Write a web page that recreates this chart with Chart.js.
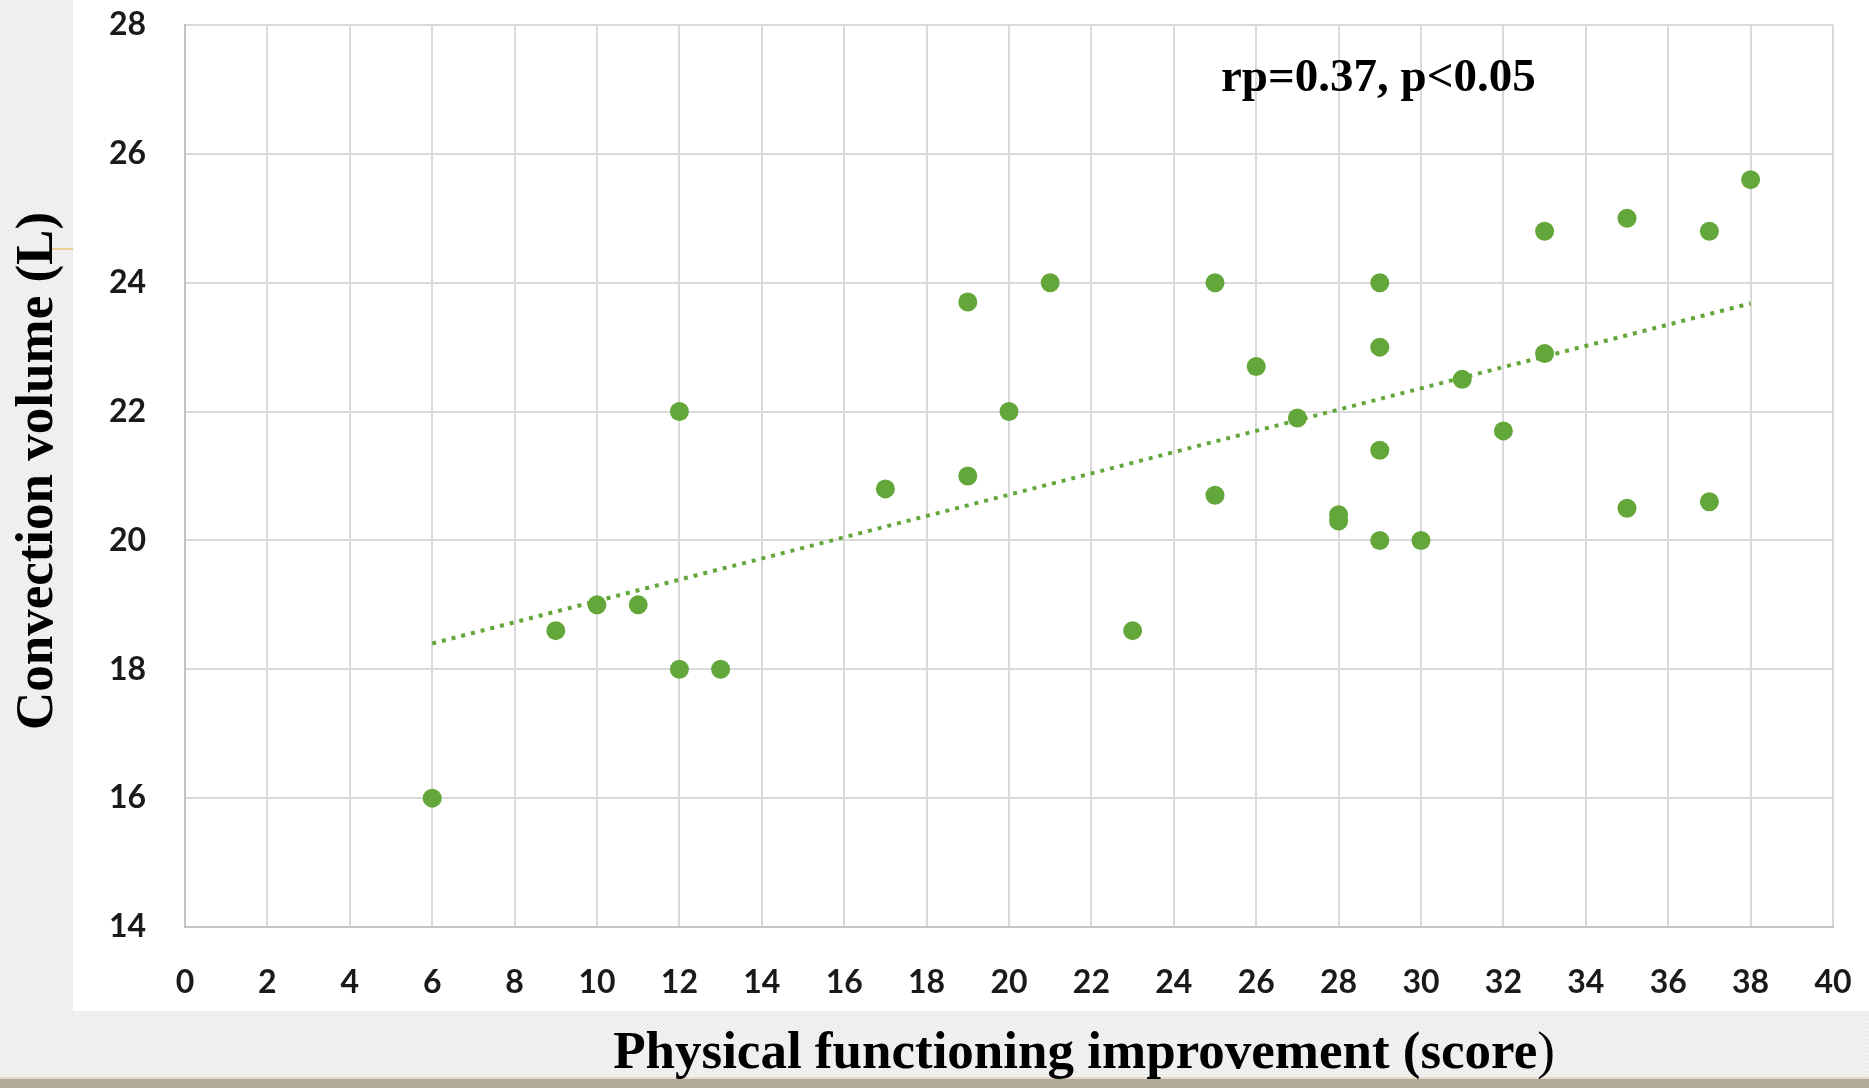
<!DOCTYPE html>
<html>
<head>
<meta charset="utf-8">
<script src="https://cdn.jsdelivr.net/npm/chart.js@4.4.1/dist/chart.umd.min.js"></script>
<style>
  html, body { margin: 0; padding: 0; background: #f3f3f1; }
  #wrap { width: 1869px; height: 1088px; position: relative; }
  canvas { display: block; }
</style>
</head>
<body>
<div id="wrap"><canvas id="c" width="1869" height="1088"></canvas></div>
<script>
// ---- data ----
const improvementScore = [6, 9, 10, 11, 12, 12, 13, 17, 19, 19, 20, 21, 23, 25, 25, 26, 27, 28, 28, 29, 29, 29, 29, 30, 31, 32, 33, 33, 35, 35, 37, 37, 38];
const convectionVolume = [16.0, 18.6, 19.0, 19.0, 22.0, 18.0, 18.0, 20.8, 23.7, 21.0, 22.0, 24.0, 18.6, 24.0, 20.7, 22.7, 21.9, 20.4, 20.3, 24.0, 23.0, 21.4, 20.0, 20.0, 22.5, 21.7, 24.8, 22.9, 25.0, 20.5, 24.8, 20.6, 25.6];
const trendX = [6, 38];
const trendY = [18.4, 23.68];
const xTicks = [0, 2, 4, 6, 8, 10, 12, 14, 16, 18, 20, 22, 24, 26, 28, 30, 32, 34, 36, 38, 40];
const yTicks = [14, 16, 18, 20, 22, 24, 26, 28];
const xTitle = 'Physical functioning improvement (score';
const xTitleEnd = ')';
const yTitle = 'Convection volume (L)';
const annotationText = 'rp=0.37, p<0.05';

const GREEN = '#63a73a';

const backgroundPlugin = {
  id: 'slideBackground',
  beforeDraw(chart) {
    const ctx = chart.ctx;
    const W = chart.width, H = chart.height;
    ctx.save();
    ctx.fillStyle = '#f2f2f0';
    ctx.fillRect(0, 0, W, H);
    // subtle diagonal texture
    ctx.strokeStyle = 'rgba(200,200,195,0.25)';
    ctx.lineWidth = 1;
    for (let k = -H; k < W; k += 4) {
      ctx.beginPath();
      ctx.moveTo(k, H);
      ctx.lineTo(k + H, 0);
      ctx.stroke();
    }
    // white chart panel
    ctx.fillStyle = '#ffffff';
    ctx.fillRect(73, 0, W - 73, 1011);
    // bottom band
    ctx.fillStyle = '#e4dccb';
    ctx.fillRect(0, 1077, W, 2);
    ctx.fillStyle = '#b2aa96';
    ctx.fillRect(0, 1079, W, H - 1079);
    // small gold decorative line
    ctx.strokeStyle = '#e8cf95';
    ctx.lineWidth = 2;
    ctx.beginPath();
    ctx.moveTo(50, 249);
    ctx.lineTo(73, 249);
    ctx.stroke();
    ctx.restore();
  }
};

const textPlugin = {
  id: 'chartTexts',
  afterDraw(chart) {
    const ctx = chart.ctx;
    ctx.save();
    ctx.fillStyle = '#000000';
    // annotation
    ctx.font = 'bold 47px "Liberation Serif", "Times New Roman", serif';
    ctx.textAlign = 'left';
    ctx.textBaseline = 'alphabetic';
    ctx.fillText(annotationText, 1221, 91);
    // x axis title
    ctx.font = 'bold 53px "Liberation Serif", "Times New Roman", serif';
    const w1 = ctx.measureText(xTitle).width;
    ctx.font = '53px "Liberation Serif", "Times New Roman", serif';
    const w2 = ctx.measureText(xTitleEnd).width;
    const cx = 1084;
    const startX = cx - (w1 + w2) / 2;
    ctx.font = 'bold 53px "Liberation Serif", "Times New Roman", serif';
    ctx.fillText(xTitle, startX, 1068);
    ctx.font = '53px "Liberation Serif", "Times New Roman", serif';
    ctx.fillText(xTitleEnd, startX + w1, 1068);
    // y axis title
    ctx.translate(52, 471);
    ctx.rotate(-Math.PI / 2);
    ctx.font = 'bold 53px "Liberation Serif", "Times New Roman", serif';
    ctx.textAlign = 'center';
    ctx.fillText(yTitle, 0, 0);
    ctx.restore();
  }
};

const tickFont = { family: 'Lato, "Open Sans", sans-serif', size: 32, weight: 'bold' };

new Chart(document.getElementById('c'), {
  type: 'scatter',
  data: {
    datasets: [
      {
        label: 'Patients',
        data: improvementScore.map((x, i) => ({ x: x, y: convectionVolume[i] })),
        backgroundColor: GREEN,
        borderWidth: 0,
        pointRadius: 9.5,
        pointHoverRadius: 9.5,
        order: 1
      },
      {
        label: 'Linear trend',
        data: trendX.map((x, i) => ({ x: x, y: trendY[i] })),
        showLine: true,
        borderColor: GREEN,
        borderWidth: 4,
        borderDash: [4, 6],
        borderCapStyle: 'butt',
        pointRadius: 0,
        fill: false,
        order: 2
      }
    ]
  },
  options: {
    responsive: false,
    animation: false,
    events: [],
    layout: { padding: { left: 0, top: 25, right: 36, bottom: 0 } },
    plugins: {
      legend: { display: false },
      tooltip: { enabled: false },
      title: { display: false }
    },
    scales: {
      x: {
        type: 'linear',
        min: 0,
        max: 40,
        afterBuildTicks: s => { s.ticks = xTicks.map(v => ({ value: v })); },
        afterFit: s => { s.height = 161; s.paddingLeft = 0; s.paddingRight = 0; },
        grid: { color: '#d9d9d9', lineWidth: 2, drawTicks: false },
        border: { display: true, color: '#c4c4c4', width: 2 },
        ticks: { font: tickFont, color: '#1a1a1a', padding: 36, maxRotation: 0, autoSkip: false }
      },
      y: {
        type: 'linear',
        min: 14,
        max: 28,
        afterBuildTicks: s => { s.ticks = yTicks.map(v => ({ value: v })); },
        afterFit: s => { s.width = 185; s.paddingTop = 0; s.paddingBottom = 0; },
        grid: { color: '#d9d9d9', lineWidth: 2, drawTicks: false },
        border: { display: true, color: '#c4c4c4', width: 2 },
        ticks: { font: tickFont, color: '#1a1a1a', padding: 39, autoSkip: false }
      }
    }
  },
  plugins: [backgroundPlugin, textPlugin]
});
</script>
</body>
</html>
